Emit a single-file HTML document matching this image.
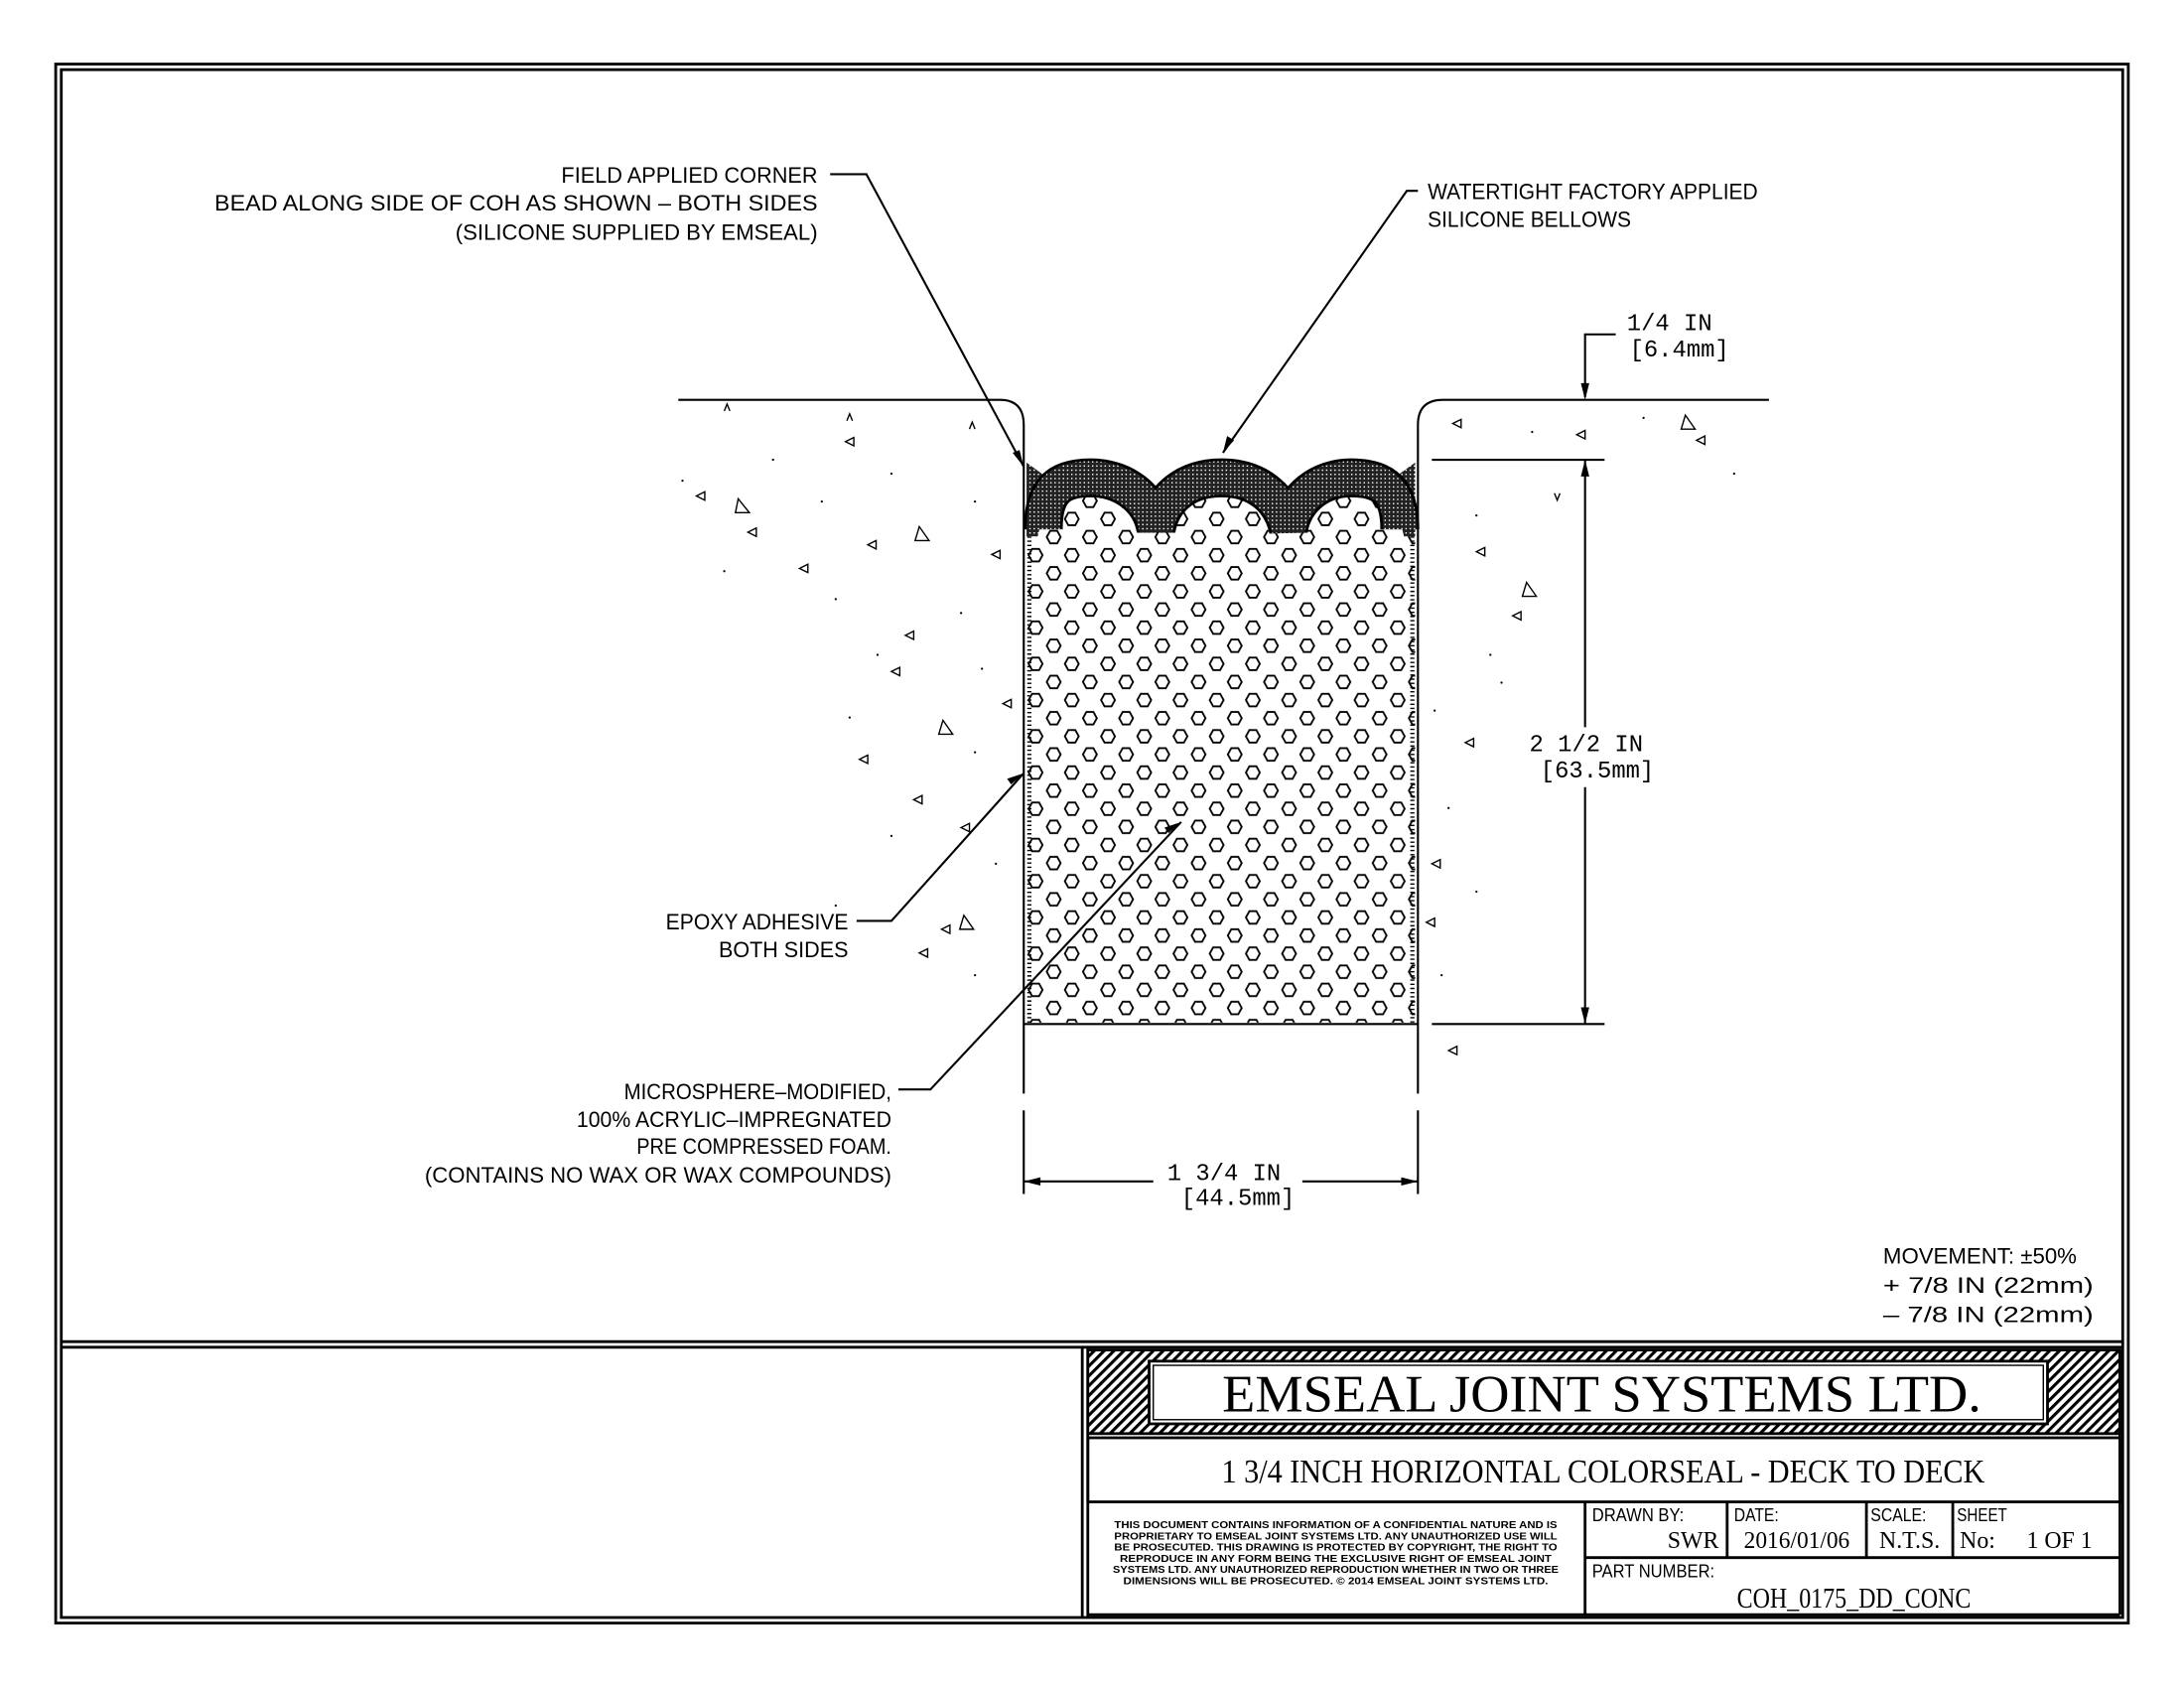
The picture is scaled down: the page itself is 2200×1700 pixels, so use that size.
<!DOCTYPE html>
<html><head><meta charset="utf-8"><style>
html,body{margin:0;padding:0;background:#fff}
svg{display:block}
text{font-family:"Liberation Sans",sans-serif;fill:#000}
.t{font-size:16px}
text.s,.s text{font-family:"Liberation Serif",serif}
text.m,.m text{font-family:"Liberation Mono",monospace}
</style></head><body>
<svg width="2200" height="1700" viewBox="0 0 1568 1211.6" preserveAspectRatio="none" xmlns="http://www.w3.org/2000/svg">
<defs>
<pattern id="hex" width="26" height="26" patternUnits="userSpaceOnUse" x="737" y="340">
<polygon points="1.5,6.5 4,2 9,2 11.5,6.5 9,11 4,11" fill="none" stroke="#000" stroke-width="1.3"/>
<polygon points="14.5,19.5 17,15 22,15 24.5,19.5 22,24 17,24" fill="none" stroke="#000" stroke-width="1.3"/>
</pattern>
<pattern id="xh" width="3" height="3" patternUnits="userSpaceOnUse">
<rect width="3" height="3" fill="#222"/><rect x="1" y="1" width="1" height="1" fill="#fff"/>
</pattern>
<pattern id="diag" width="5" height="5" patternUnits="userSpaceOnUse" patternTransform="rotate(45)">
<rect width="5" height="5" fill="#fff"/><rect width="2.2" height="5" fill="#000"/>
</pattern>
</defs>
<rect x="40" y="46" width="1488" height="1119" fill="none" stroke="#000" stroke-width="2"/>
<rect x="44" y="50" width="1480" height="1111" fill="none" stroke="#000" stroke-width="2"/>
<line x1="44" y1="963" x2="1524" y2="963" stroke="#000" stroke-width="2"/>
<line x1="44" y1="967" x2="1524" y2="967" stroke="#000" stroke-width="2"/>
<line x1="777" y1="967" x2="777" y2="1161" stroke="#000" stroke-width="2"/>
<line x1="781" y1="967" x2="781" y2="1161" stroke="#000" stroke-width="2"/>
<rect x="781" y="969" width="741" height="60" fill="url(#diag)" stroke="#000" stroke-width="2"/>
<rect x="825" y="977" width="645" height="45" fill="#fff" stroke="#000" stroke-width="2"/>
<rect x="828" y="980" width="639" height="39" fill="none" stroke="#000" stroke-width="1"/>
<text x="1150" y="1013" class="s" font-size="38" text-anchor="middle" textLength="545" lengthAdjust="spacingAndGlyphs">EMSEAL JOINT SYSTEMS LTD.</text>
<rect x="781" y="1032" width="741" height="46" fill="none" stroke="#000" stroke-width="2"/>
<text x="1151" y="1064" class="s" font-size="24" text-anchor="middle" textLength="548" lengthAdjust="spacingAndGlyphs">1 3/4 INCH HORIZONTAL COLORSEAL - DECK TO DECK</text>
<line x1="781" y1="1159" x2="1522" y2="1159" stroke="#000" stroke-width="2"/>
<line x1="1138" y1="1078" x2="1138" y2="1159" stroke="#000" stroke-width="2"/>
<line x1="1240" y1="1078" x2="1240" y2="1118" stroke="#000" stroke-width="2"/>
<line x1="1340" y1="1078" x2="1340" y2="1118" stroke="#000" stroke-width="2"/>
<line x1="1402" y1="1078" x2="1402" y2="1118" stroke="#000" stroke-width="2"/>
<line x1="1138" y1="1118" x2="1522" y2="1118" stroke="#000" stroke-width="2"/>
<line x1="1522" y1="969" x2="1522" y2="1159" stroke="#000" stroke-width="2"/>
<g font-size="7.2" text-anchor="middle" font-weight="bold">
<text x="959" y="1097" textLength="318" lengthAdjust="spacingAndGlyphs">THIS DOCUMENT CONTAINS INFORMATION OF A CONFIDENTIAL NATURE AND IS</text>
<text x="959" y="1105" textLength="318" lengthAdjust="spacingAndGlyphs">PROPRIETARY TO EMSEAL JOINT SYSTEMS LTD. ANY UNAUTHORIZED USE WILL</text>
<text x="959" y="1113" textLength="318" lengthAdjust="spacingAndGlyphs">BE PROSECUTED. THIS DRAWING IS PROTECTED BY COPYRIGHT, THE RIGHT TO</text>
<text x="959" y="1121" textLength="310" lengthAdjust="spacingAndGlyphs">REPRODUCE IN ANY FORM BEING THE EXCLUSIVE RIGHT OF EMSEAL JOINT</text>
<text x="959" y="1129" textLength="320" lengthAdjust="spacingAndGlyphs">SYSTEMS LTD. ANY UNAUTHORIZED REPRODUCTION WHETHER IN TWO OR THREE</text>
<text x="959" y="1137" textLength="305" lengthAdjust="spacingAndGlyphs">DIMENSIONS WILL BE PROSECUTED. © 2014 EMSEAL JOINT SYSTEMS LTD.</text>
</g>
<g font-size="13">
<text x="1143" y="1092" textLength="66" lengthAdjust="spacingAndGlyphs">DRAWN BY:</text>
<text x="1245" y="1092" textLength="32" lengthAdjust="spacingAndGlyphs">DATE:</text>
<text x="1343" y="1092" textLength="40" lengthAdjust="spacingAndGlyphs">SCALE:</text>
<text x="1405" y="1092" textLength="36" lengthAdjust="spacingAndGlyphs">SHEET</text>
<text x="1143" y="1132" textLength="88" lengthAdjust="spacingAndGlyphs">PART NUMBER:</text>
</g>
<g class="s" font-size="17">
<text x="1234" y="1111" text-anchor="end">SWR</text>
<text x="1290" y="1111" text-anchor="middle" textLength="76" lengthAdjust="spacingAndGlyphs">2016/01/06</text>
<text x="1371" y="1111" text-anchor="middle">N.T.S.</text>
<text x="1407" y="1111">No:</text>
<text x="1455" y="1111">1 OF 1</text>
<text x="1331" y="1154" text-anchor="middle" font-size="20" textLength="168" lengthAdjust="spacingAndGlyphs">COH_0175_DD_CONC</text>
</g>
<g fill="none" stroke="#000" stroke-width="1.5">
<path d="M487,287 H718 Q735,287 735,305 V785"/>
<path d="M1270,287 H1036 Q1018,287 1018,305 V785"/>
<line x1="735" y1="735" x2="1018" y2="735"/>
</g>
<rect x="737" y="340" width="279" height="394" fill="url(#hex)"/>
<line x1="739" y1="340" x2="739" y2="734" stroke="#000" stroke-width="3" stroke-dasharray="1 2"/>
<line x1="1014" y1="340" x2="1014" y2="734" stroke="#000" stroke-width="3" stroke-dasharray="1 2"/>
<path d="M736,320 H1017 V382 C1011,352 993,341 970,341 C948,341 929,355 925,382 C920,355 902,341 877,341 C852,341 834,355 830,382 C826,355 806,341 783,341 C760,341 743,352 743,382 L736,382Z" fill="#fff"/>
<path d="M737,332 L755,345 L745,385 L737,385Z M1016,332 L998,345 L1008,385 L1016,385Z" fill="url(#xh)"/>
<path d="M749,380 C749,352 760,343 783,343 C806,343 826,357 830,380 C834,357 852,343 877,343 C902,343 920,357 925,380 C929,357 948,343 970,343 C993,343 1005,352 1005,380" fill="none" stroke="#000" stroke-width="28"/>
<path d="M749,380 C749,352 760,343 783,343 C806,343 826,357 830,380 C834,357 852,343 877,343 C902,343 920,357 925,380 C929,357 948,343 970,343 C993,343 1005,352 1005,380" fill="none" stroke="url(#xh)" stroke-width="24"/>
<g fill="none" stroke="#000" stroke-width="1">
<path d="M530,358 l8,10 h-10z M660,378 l7,10 h-10z M1096,418 l7,10 h-10z M1210,298 l7,10 h-10z M677,517 l7,10 h-10z M692,657 l7,10 h-10z"/>
<path d="M500,356 l6,-3 v6z M607,317 l6,-3 v6z M623,391 l6,-3 v6z M574,408 l6,-3 v6z M650,456 l6,-3 v6z M617,545 l6,-3 v6z M656,574 l6,-3 v6z M712,398 l6,-3 v6z M720,505 l6,-3 v6z M690,594 l6,-3 v6z M676,667 l6,-3 v6z M660,684 l6,-3 v6z M1043,304 l6,-3 v6z M1132,312 l6,-3 v6z M1060,396 l6,-3 v6z M1086,442 l6,-3 v6z M1052,533 l6,-3 v6z M1028,620 l6,-3 v6z M1024,662 l6,-3 v6z M1040,754 l6,-3 v6z M1218,316 l6,-3 v6z M537,382 l6,-3 v6z M640,482 l6,-3 v6z"/>
<path d="M520,295 l2,-5 l2,5 M608,302 l2,-5 l2,5 M696,308 l2,-5 l2,5 M1116,354 l2,5 l2,-5"/>
</g>
<g fill="#000">
<circle cx="490" cy="345" r="0.8"/><circle cx="555" cy="330" r="0.8"/><circle cx="590" cy="360" r="0.8"/><circle cx="640" cy="340" r="0.8"/><circle cx="700" cy="360" r="0.8"/><circle cx="520" cy="410" r="0.8"/><circle cx="600" cy="430" r="0.8"/><circle cx="690" cy="440" r="0.8"/><circle cx="630" cy="470" r="0.8"/><circle cx="705" cy="480" r="0.8"/><circle cx="610" cy="515" r="0.8"/><circle cx="700" cy="540" r="0.8"/><circle cx="640" cy="600" r="0.8"/><circle cx="715" cy="620" r="0.8"/><circle cx="600" cy="650" r="0.8"/><circle cx="700" cy="700" r="0.8"/><circle cx="1100" cy="310" r="0.8"/><circle cx="1180" cy="300" r="0.8"/><circle cx="1245" cy="340" r="0.8"/><circle cx="1060" cy="370" r="0.8"/><circle cx="1070" cy="470" r="0.8"/><circle cx="1078" cy="490" r="0.8"/><circle cx="1040" cy="580" r="0.8"/><circle cx="1060" cy="640" r="0.8"/><circle cx="1035" cy="700" r="0.8"/><circle cx="1030" cy="510" r="0.8"/>
</g>
<g stroke="#000" stroke-width="1.5" fill="none">
<line x1="1028" y1="330" x2="1152" y2="330"/>
<line x1="1028" y1="735" x2="1152" y2="735"/>
<line x1="1138" y1="330" x2="1138" y2="522"/>
<line x1="1138" y1="565" x2="1138" y2="735"/>
<polyline points="1160,240 1138,240 1138,285"/>
<line x1="735" y1="797" x2="735" y2="857"/>
<line x1="1018" y1="797" x2="1018" y2="857"/>
<line x1="735" y1="848" x2="828" y2="848"/>
<line x1="935" y1="848" x2="1018" y2="848"/>
<polyline points="596,125 622,125 735,335"/>
<polyline points="1018,137 1010,137 878,325"/>
<polyline points="615,661 640,661 735,555"/>
<polyline points="645,782 668,782 848,590"/>
</g>
<g fill="#000">
<path d="M1138,287 l-3,-12 h6z M1138,330 l-3,12 h6z M1138,735 l-3,-12 h6z M735,848 l12,-3 v6z M1018,848 l-12,-3 v6z"/>
<path d="M735,335 l-8,-10 l5,-2z M878,325 l3,-12 l5,3z M735,555 l-9,8 l-3,-4z M848,590 l-9,8 l-3,-4z"/>
</g>
<g class="t">
<text x="587" y="131" text-anchor="end" textLength="184" lengthAdjust="spacingAndGlyphs">FIELD APPLIED CORNER</text>
<text x="587" y="151" text-anchor="end" textLength="433" lengthAdjust="spacingAndGlyphs">BEAD ALONG SIDE OF COH AS SHOWN – BOTH SIDES</text>
<text x="587" y="172" text-anchor="end" textLength="260" lengthAdjust="spacingAndGlyphs">(SILICONE SUPPLIED BY EMSEAL)</text>
<text x="1025" y="143" textLength="237" lengthAdjust="spacingAndGlyphs">WATERTIGHT FACTORY APPLIED</text>
<text x="1025" y="163" textLength="146" lengthAdjust="spacingAndGlyphs">SILICONE BELLOWS</text>
<text x="609" y="667" text-anchor="end" textLength="131" lengthAdjust="spacingAndGlyphs">EPOXY ADHESIVE</text>
<text x="609" y="687" text-anchor="end" textLength="93" lengthAdjust="spacingAndGlyphs">BOTH SIDES</text>
<text x="640" y="789" text-anchor="end" textLength="192" lengthAdjust="spacingAndGlyphs">MICROSPHERE–MODIFIED,</text>
<text x="640" y="809" text-anchor="end" textLength="226" lengthAdjust="spacingAndGlyphs">100% ACRYLIC–IMPREGNATED</text>
<text x="640" y="828" text-anchor="end" textLength="183" lengthAdjust="spacingAndGlyphs">PRE COMPRESSED FOAM.</text>
<text x="640" y="849" text-anchor="end" textLength="335" lengthAdjust="spacingAndGlyphs">(CONTAINS NO WAX OR WAX COMPOUNDS)</text>
<text x="1352" y="907" textLength="139" lengthAdjust="spacingAndGlyphs">MOVEMENT: ±50%</text>
<text x="1352" y="928" textLength="151" lengthAdjust="spacingAndGlyphs">+ 7/8 IN (22mm)</text>
<text x="1352" y="949" textLength="151" lengthAdjust="spacingAndGlyphs">– 7/8 IN (22mm)</text>
</g>
<g class="m" font-size="17">
<text x="1168" y="237">1/4 IN</text>
<text x="1170" y="256">[6.4mm]</text>
<text x="1098" y="539">2 1/2 IN</text>
<text x="1106" y="558">[63.5mm]</text>
<text x="838" y="847">1 3/4 IN</text>
<text x="848" y="865">[44.5mm]</text>
</g>
</svg>
</body></html>
